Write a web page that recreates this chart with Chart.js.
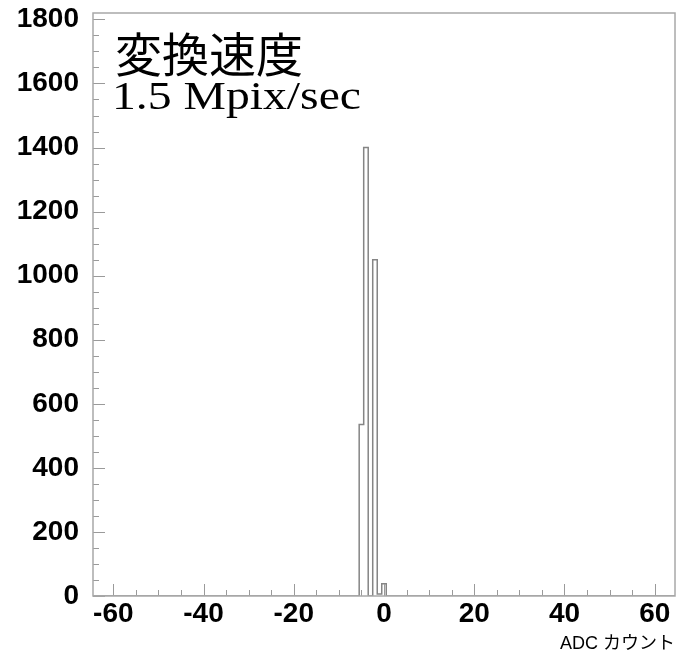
<!DOCTYPE html>
<html>
<head>
<meta charset="utf-8">
<script src="https://cdn.jsdelivr.net/npm/chart.js@4"></script>
<style>
  html, body { margin: 0; padding: 0; background: #fff; }
  #wrap { width: 681px; height: 658px; position: relative; }
</style>
</head>
<body>
<div id="wrap"><canvas id="c" width="681" height="658"></canvas></div>
<script>
// ---- data ----
const binCenters = [];
for (let b = -64; b <= 64; b++) binCenters.push(b);
// non-zero bins: ADC count -> entries
const peakBins   = [-5,  -4,   -3, -2,   -1, 0];
const peakCounts = [535, 1400, 0,  1050, 6,  38];
const xTickLabels = [-60, -40, -20, 0, 20, 40, 60];
const yTickLabels = [0, 200, 400, 600, 800, 1000, 1200, 1400, 1600, 1800];
const titleLine1 = '変換速度';
const titleLine2 = '1.5 Mpix/sec';
const xAxisTitle = 'ADC カウント';

const counts = binCenters.map(b => {
  const i = peakBins.indexOf(b);
  return i >= 0 ? peakCounts[i] : 0;
});
// step outline: a point at each bin's low edge, plus closing point
const stepData = binCenters.map((b, i) => ({ x: b - 0.5, y: counts[i] }));
stepData.push({ x: binCenters[binCenters.length - 1] + 0.5, y: 0 });

const X_MIN = -64.5, X_MAX = 64.5, Y_MIN = 0, Y_MAX = 1820;

const frameAndTicks = {
  id: 'frameAndTicks',
  afterDatasetsDraw(chart) {
    const { ctx, chartArea: a, scales: { x, y } } = chart;
    ctx.save();
    ctx.strokeStyle = '#9a9a9a';
    ctx.lineWidth = 1;
    ctx.beginPath();
    for (let v = -60; v <= 60; v += 5) {
      const px = Math.round(x.getPixelForValue(v)) + 0.5;
      const len = (v % 20 === 0) ? 12 : 6;
      ctx.moveTo(px, a.bottom);
      ctx.lineTo(px, a.bottom - len);
    }
    for (let v = 0; v <= 1800; v += 50) {
      const py = Math.round(y.getPixelForValue(v)) + 0.5;
      const len = (v % 200 === 0) ? 12 : 6;
      ctx.moveTo(a.left, py);
      ctx.lineTo(a.left + len, py);
    }
    ctx.stroke();
    ctx.strokeStyle = '#a8a8a8';
    ctx.lineWidth = 1.5;
    ctx.strokeRect(a.left, a.top, a.right - a.left, a.bottom - a.top);
    // annotation text
    ctx.fillStyle = '#000';
    ctx.textAlign = 'left';
    ctx.textBaseline = 'alphabetic';
    ctx.font = '47px "Noto Sans CJK JP"';
    ctx.fillText(titleLine1, 115, 72);
    ctx.font = '39px "Liberation Serif"';
    const w = ctx.measureText(titleLine2).width;
    const sx = 249 / w;
    ctx.translate(112, 109);
    ctx.scale(sx, 1);
    ctx.fillText(titleLine2, 0, 0);
    ctx.restore();
  }
};

new Chart(document.getElementById('c'), {
  type: 'line',
  data: {
    datasets: [{
      data: stepData,
      stepped: 'before',
      borderColor: '#858585',
      borderWidth: 1.5,
      pointRadius: 0,
      fill: false
    }]
  },
  options: {
    responsive: false,
    animation: false,
    layout: { padding: { left: 0, right: 6, top: 13, bottom: 0 } },
    plugins: { legend: { display: false }, tooltip: { enabled: false } },
    scales: {
      x: {
        type: 'linear', min: X_MIN, max: X_MAX,
        grid: { display: false, drawTicks: false },
        border: { display: false },
        afterBuildTicks(s) { s.ticks = xTickLabels.map(v => ({ value: v })); },
        afterFit(s) { s.height = 62; s.paddingLeft = 0; s.paddingRight = 0; },
        ticks: {
          autoSkip: false, maxRotation: 0, padding: 1,
          color: '#000',
          font: { family: 'Liberation Sans', size: 28, weight: 'bold' },
          callback: v => String(Math.round(v))
        },
        title: {
          display: true, text: xAxisTitle, align: 'end',
          color: '#000',
          font: { family: 'Liberation Sans, "Noto Sans CJK JP"', size: 18 },
          padding: { top: 0, bottom: 3 }
        }
      },
      y: {
        type: 'linear', min: Y_MIN, max: Y_MAX,
        grid: { display: false, drawTicks: false },
        border: { display: false },
        afterBuildTicks(s) { s.ticks = yTickLabels.map(v => ({ value: v })); },
        afterFit(s) { s.width = 93; s.paddingTop = 0; s.paddingBottom = 0; },
        ticks: {
          autoSkip: false, padding: 14,
          color: '#000',
          font: { family: 'Liberation Sans', size: 28, weight: 'bold' },
          callback: v => String(v)
        }
      }
    }
  },
  plugins: [frameAndTicks]
});
</script>
</body>
</html>
